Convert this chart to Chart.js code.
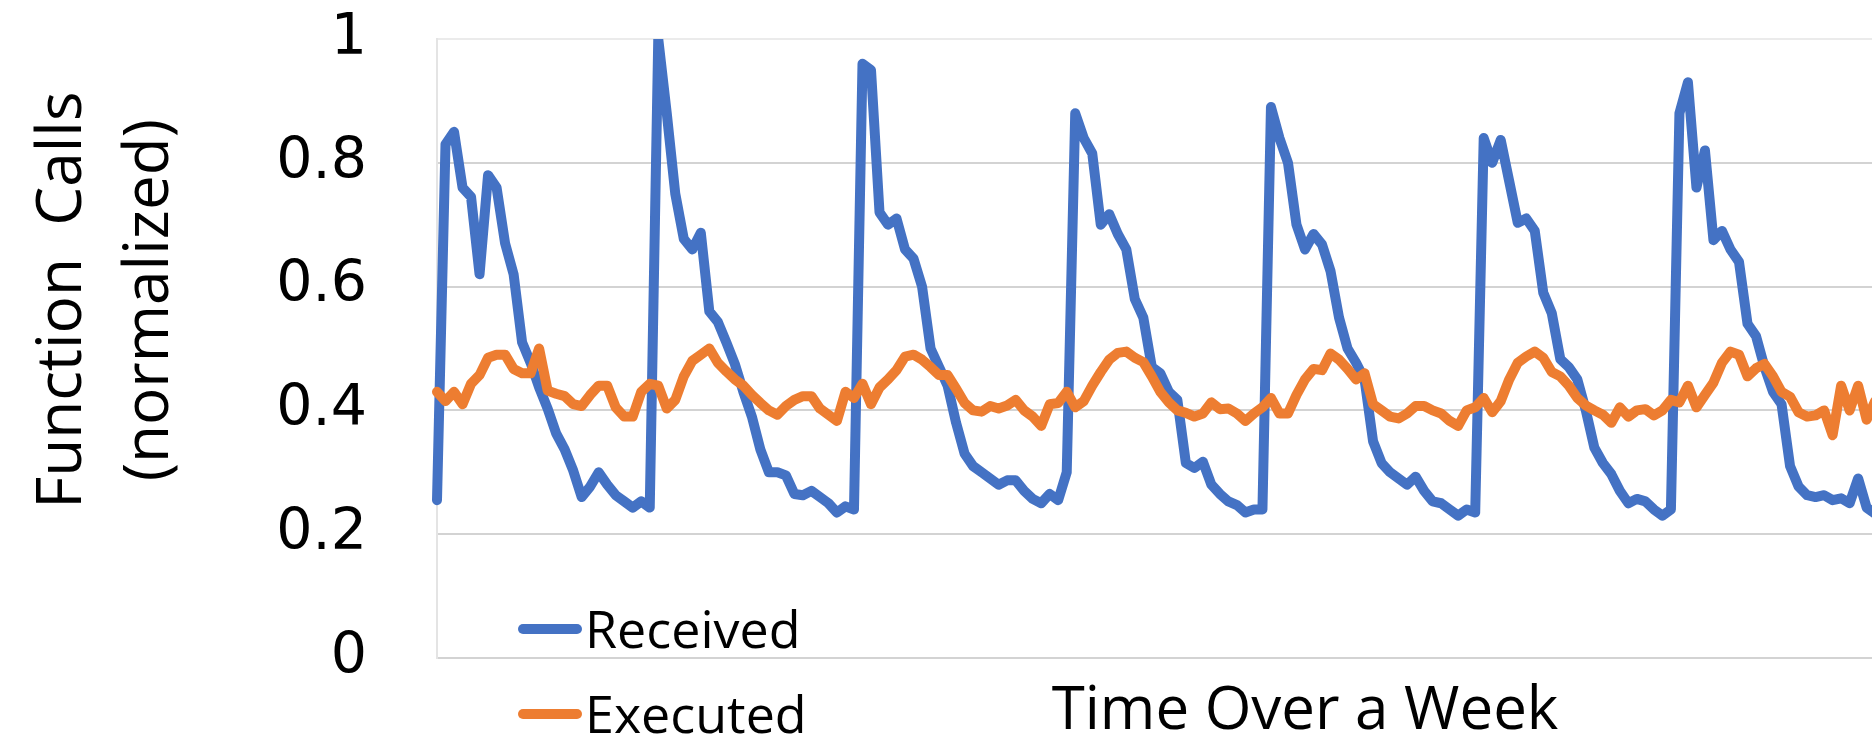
<!DOCTYPE html>
<html>
<head>
<meta charset="utf-8">
<script src="https://cdn.jsdelivr.net/npm/chart.js@4.4.1/dist/chart.umd.min.js"></script>
<style>
  html, body { margin: 0; padding: 0; background: #ffffff; overflow: hidden; width: 1872px; height: 744px; }
  #wrap { position: absolute; left: 0; top: 0; width: 2173px; height: 744px; }
  canvas { display: block; }
</style>
</head>
<body>
<div id="wrap"><canvas id="c" width="2173" height="744"></canvas></div>
<script>
// x categories: hours over the week (the original figure continues past the visible crop)
const hours = Array.from({ length: 205 }, (_, i) => i);

const seriesNames = ['Received', 'Executed'];

const received = [
  0.255, 0.83, 0.85, 0.76, 0.745, 0.62, 0.78, 0.76, 0.67, 0.62,
  0.51, 0.477, 0.437, 0.403, 0.363, 0.337, 0.303, 0.26, 0.277, 0.30,
  0.28, 0.263, 0.253, 0.243, 0.253, 0.243, 1.0, 0.88, 0.75, 0.677,
  0.66, 0.687, 0.56, 0.543, 0.51, 0.475, 0.43, 0.39, 0.337, 0.30,
  0.30, 0.295, 0.265, 0.263, 0.27, 0.26, 0.25, 0.235, 0.245, 0.24,
  0.96, 0.95, 0.72, 0.70, 0.71, 0.66, 0.645, 0.60, 0.50, 0.47,
  0.44, 0.38, 0.33, 0.31, 0.30, 0.29, 0.28, 0.287, 0.287, 0.27,
  0.257, 0.25, 0.265, 0.255, 0.30, 0.88, 0.84, 0.815, 0.70, 0.717,
  0.685, 0.66, 0.58, 0.55, 0.47, 0.46, 0.43, 0.417, 0.315, 0.307,
  0.317, 0.28, 0.265, 0.253, 0.247, 0.235, 0.24, 0.24, 0.89, 0.84,
  0.80, 0.70, 0.66, 0.685, 0.668, 0.625, 0.55, 0.50, 0.477, 0.45,
  0.35, 0.315, 0.30, 0.29, 0.28, 0.293, 0.27, 0.253, 0.25, 0.24,
  0.23, 0.24, 0.235, 0.84, 0.80, 0.837, 0.77, 0.703, 0.71, 0.69,
  0.59, 0.557, 0.483, 0.47, 0.45, 0.40, 0.34, 0.315, 0.297, 0.27,
  0.25, 0.257, 0.253, 0.24, 0.23, 0.24, 0.88, 0.93, 0.76, 0.82,
  0.675, 0.69, 0.66, 0.64, 0.54, 0.52, 0.47, 0.43, 0.41, 0.31,
  0.277, 0.263, 0.26, 0.263, 0.255, 0.258, 0.25, 0.29, 0.243, 0.233
];

const executed = [
  0.43, 0.415, 0.43, 0.41, 0.443, 0.457, 0.485, 0.49, 0.49, 0.467,
  0.46, 0.46, 0.50, 0.432, 0.427, 0.423, 0.41, 0.407, 0.425, 0.44,
  0.44, 0.405, 0.39, 0.39, 0.43, 0.443, 0.44, 0.403, 0.417, 0.455,
  0.48, 0.49, 0.50, 0.477, 0.463, 0.45, 0.44, 0.425, 0.412, 0.40,
  0.393, 0.407, 0.417, 0.423, 0.423, 0.403, 0.393, 0.383, 0.43, 0.42,
  0.443, 0.41, 0.437, 0.45, 0.465, 0.487, 0.49, 0.482, 0.47, 0.457,
  0.457, 0.435, 0.412, 0.40, 0.398, 0.407, 0.403, 0.408, 0.417, 0.40,
  0.39, 0.375, 0.41, 0.412, 0.43, 0.405, 0.415, 0.44, 0.462, 0.482,
  0.493, 0.495, 0.485, 0.478, 0.455, 0.43, 0.413, 0.40, 0.396, 0.39,
  0.395, 0.413, 0.402, 0.403, 0.395, 0.383, 0.395, 0.405, 0.42, 0.395,
  0.395, 0.425, 0.45, 0.467, 0.465, 0.492, 0.482, 0.467, 0.45, 0.46,
  0.41, 0.40, 0.39, 0.387, 0.395, 0.407, 0.407, 0.40, 0.395, 0.383,
  0.375, 0.40, 0.405, 0.42, 0.397, 0.415, 0.45, 0.477, 0.487, 0.495,
  0.485, 0.462, 0.455, 0.44, 0.42, 0.408, 0.40, 0.393, 0.38, 0.405,
  0.39, 0.40, 0.402, 0.392, 0.40, 0.417, 0.413, 0.44, 0.405, 0.425,
  0.445, 0.477, 0.495, 0.49, 0.455, 0.468, 0.475, 0.455, 0.43, 0.422,
  0.397, 0.39, 0.392, 0.40, 0.36, 0.44, 0.40, 0.44, 0.385, 0.415
];

const yTickValues = [0, 0.2, 0.4, 0.6, 0.8, 1];
const yTickLabels = ['0', '0.2', '0.4', '0.6', '0.8', '1'];

const BLUE = '#4472C4';
const ORANGE = '#ED7D31';

// legend drawn in the lower-left corner, overlapping the plot like the original
const cornerLegend = {
  id: 'cornerLegend',
  afterDraw(chart) {
    const ctx = chart.ctx;
    const rows = [629, 714];
    ctx.save();
    chart.data.datasets.forEach((ds, i) => {
      const y = rows[i];
      ctx.strokeStyle = ds.borderColor;
      ctx.lineWidth = 10;
      ctx.lineCap = 'round';
      ctx.beginPath();
      ctx.moveTo(523, y);
      ctx.lineTo(577, y);
      ctx.stroke();
      ctx.fillStyle = '#000000';
      ctx.font = '52px "Open Sans"';
      ctx.textAlign = 'left';
      ctx.textBaseline = 'alphabetic';
      ctx.fillText(ds.label, 585, y + 0.357 * 52);
    });
    ctx.restore();
  }
};

function draw() {
  new Chart(document.getElementById('c'), {
    type: 'line',
    data: {
      labels: hours,
      datasets: [
        {
          label: seriesNames[0],
          data: received,
          borderColor: BLUE,
          backgroundColor: BLUE,
          borderWidth: 10,
          pointRadius: 0,
          tension: 0,
          borderJoinStyle: 'round',
          borderCapStyle: 'round',
          order: 1
        },
        {
          label: seriesNames[1],
          data: executed,
          borderColor: ORANGE,
          backgroundColor: ORANGE,
          borderWidth: 10,
          pointRadius: 0,
          tension: 0,
          borderJoinStyle: 'round',
          borderCapStyle: 'round',
          order: 0
        }
      ]
    },
    options: {
      responsive: false,
      animation: false,
      devicePixelRatio: 1,
      layout: { padding: { top: 39, left: 0, right: 0, bottom: 0 } },
      plugins: {
        legend: { display: false },
        tooltip: { enabled: false }
      },
      scales: {
        x: {
          type: 'category',
          offset: false,
          grid: { display: false },
          border: { display: false },
          ticks: { display: false },
          title: {
            display: true,
            text: 'Time Over a Week',
            color: '#000000',
            font: { family: 'Open Sans', size: 60, lineHeight: 1 },
            padding: { top: 0, bottom: 2 }
          },
          afterFit(scale) {
            scale.height = 86;
            scale.paddingLeft = 0;
            scale.paddingRight = 0;
          }
        },
        y: {
          min: 0,
          max: 1,
          afterBuildTicks(scale) {
            scale.ticks = yTickValues.map(v => ({ value: v }));
          },
          ticks: {
            color: '#000000',
            font: { family: 'DejaVu Sans', size: 57 },
            padding: 70,
            callback: (value) => {
              const idx = yTickValues.findIndex(v => Math.abs(v - value) < 1e-9);
              return idx >= 0 ? yTickLabels[idx] : '';
            }
          },
          grid: {
            drawTicks: false,
            lineWidth: 2,
            color: (c) => (c.tick && c.tick.value === 1) ? '#ebebeb' : '#d3d3d3'
          },
          border: { display: true, color: '#e4e4e4', width: 2 },
          title: {
            display: true,
            text: ['      Function  Calls', '      (normalized)'],
            color: '#000000',
            font: { family: 'Open Sans', size: 62, lineHeight: 1.4 },
            padding: { top: 20, bottom: 0 }
          },
          afterFit(scale) {
            scale.width = 437;
            scale.paddingTop = 0;
            scale.paddingBottom = 0;
          }
        }
      }
    },
    plugins: [cornerLegend]
  });
}

const fontLoads = ['57px "DejaVu Sans"', '62px "Open Sans"', '52px "Open Sans"']
  .map(f => document.fonts.load(f).catch(() => null));
Promise.all(fontLoads).then(draw, draw);
</script>
</body>
</html>
